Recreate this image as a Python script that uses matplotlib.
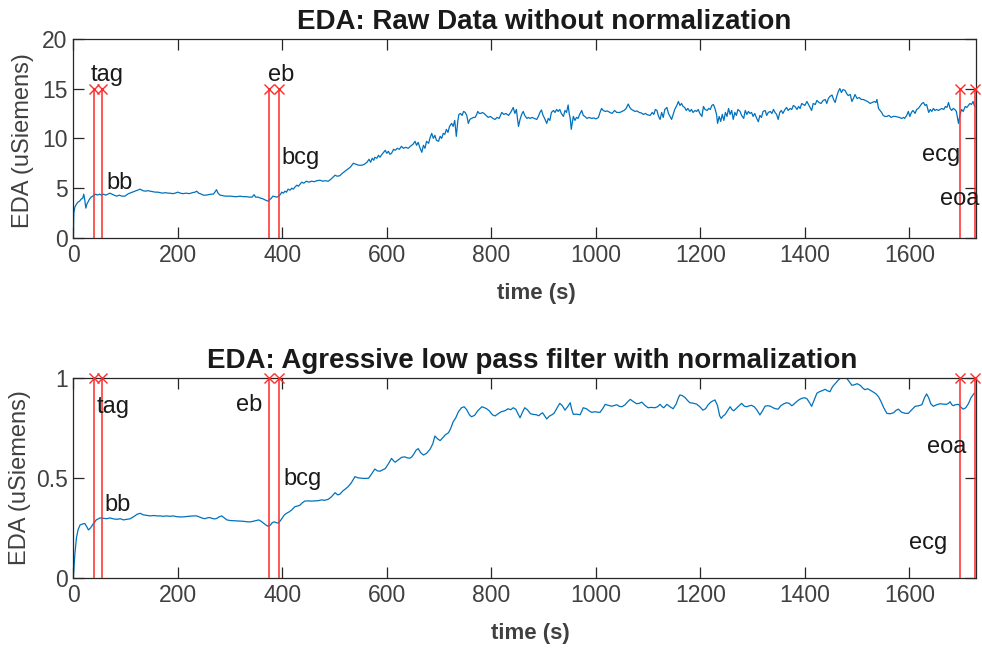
import matplotlib
matplotlib.use("Agg")
import matplotlib.pyplot as plt

plt.rcParams['font.family'] = ['Liberation Sans', 'DejaVu Sans']

# ---------------- data ----------------
raw_t = [0, 1, 3, 6, 9, 12, 15, 18, 20, 22, 24, 26, 28, 31, 34, 37, 40, 43, 46, 50, 54, 58, 62, 66, 70, 74, 78, 83, 88, 93, 99,
         104, 108, 113, 118, 123, 128, 133, 138, 143, 147, 152, 157, 162, 166, 171, 176, 181, 185, 190, 195, 200, 205, 210, 216,
         222, 228, 233, 236, 240, 245, 249, 254, 259, 264, 268, 271, 274, 277, 281, 286, 291, 296, 302, 308, 313, 319, 325, 331,
         337, 342, 346, 349, 354, 358, 362, 366, 370, 373, 376, 379, 382, 386, 389, 392, 396, 399, 402, 405, 408, 411, 415, 418,
         421, 424, 428, 431, 434, 437, 441, 446, 451, 456, 461, 466, 472, 477, 482, 488, 493, 497, 501, 505, 510, 515, 520, 525,
         530, 536, 541, 546, 552, 557, 562, 566, 569, 572, 575, 577, 581, 584, 587, 590, 594, 597, 600, 603, 606, 609, 613, 616,
         620, 624, 628, 632, 636, 641, 645, 650, 654, 657, 660, 663, 667, 670, 673, 676, 680, 683, 686, 689, 692, 695, 699, 702,
         705, 708, 711, 714, 717, 720, 724, 727, 730, 733, 736, 738, 741, 744, 747, 750, 753, 756, 759, 762, 766, 769, 772, 774,
         777, 780, 783, 786, 790, 794, 798, 803, 807, 811, 815, 820, 824, 828, 833, 837, 840, 842, 845, 848, 850, 852, 855, 858,
         861, 864, 868, 871, 874, 878, 882, 887, 890, 893, 896, 899, 902, 906, 909, 912, 915, 919, 922, 925, 928, 931, 934, 938,
         941, 944, 947, 949, 951, 953, 955, 957, 960, 963, 966, 969, 973, 976, 979, 983, 987, 992, 996, 1000, 1005, 1008, 1011,
         1014, 1018, 1022, 1027, 1031, 1036, 1040, 1046, 1050, 1054, 1058, 1062, 1065, 1068, 1072, 1075, 1079, 1083, 1087, 1091,
         1095, 1099, 1104, 1108, 1111, 1114, 1117, 1120, 1123, 1126, 1129, 1132, 1136, 1139, 1142, 1145, 1148, 1151, 1155, 1158,
         1161, 1164, 1167, 1170, 1173, 1176, 1180, 1183, 1186, 1190, 1193, 1196, 1199, 1203, 1206, 1209, 1213, 1216, 1219, 1222,
         1225, 1228, 1231, 1233, 1236, 1239, 1242, 1245, 1248, 1251, 1254, 1257, 1260, 1263, 1266, 1269, 1272, 1276, 1279, 1283,
         1286, 1289, 1292, 1295, 1298, 1301, 1304, 1308, 1311, 1314, 1317, 1320, 1324, 1327, 1330, 1334, 1337, 1340, 1343, 1346,
         1349, 1352, 1355, 1358, 1362, 1365, 1368, 1372, 1375, 1378, 1381, 1385, 1388, 1391, 1394, 1397, 1400, 1404, 1407, 1410,
         1413, 1416, 1420, 1423, 1427, 1431, 1435, 1439, 1442, 1445, 1448, 1452, 1455, 1458, 1461, 1464, 1467, 1470, 1473, 1477,
         1480, 1483, 1487, 1490, 1493, 1496, 1500, 1504, 1508, 1512, 1516, 1520, 1525, 1529, 1533, 1536, 1538, 1541, 1544, 1547,
         1550, 1553, 1557, 1561, 1565, 1569, 1573, 1577, 1581, 1585, 1589, 1591, 1595, 1598, 1601, 1604, 1607, 1611, 1614, 1617,
         1620, 1624, 1627, 1630, 1633, 1637, 1640, 1643, 1646, 1649, 1652, 1656, 1659, 1662, 1666, 1669, 1672, 1675, 1678, 1681,
         1684, 1687, 1690, 1694, 1697, 1700, 1703, 1707, 1710, 1713, 1716, 1719, 1722, 1725]
raw_eda = [0.0, 2.5, 3.1, 3.4, 3.6, 3.7, 3.9, 4.0, 4.4, 3.8, 3.0, 3.4, 3.6, 3.9, 4.1, 4.2, 4.3, 4.4, 4.3, 4.4, 4.3, 4.4, 4.3, 4.4,
           4.5, 4.4, 4.3, 4.2, 4.3, 4.2, 4.2, 4.4, 4.5, 4.6, 4.7, 4.8, 4.9, 4.75, 4.7, 4.75, 4.7, 4.65, 4.6, 4.6, 4.55, 4.5,
           4.55, 4.5, 4.5, 4.45, 4.5, 4.6, 4.5, 4.45, 4.5, 4.45, 4.55, 4.6, 4.7, 4.5, 4.4, 4.3, 4.3, 4.35, 4.4, 4.4, 4.6, 4.85,
           4.5, 4.3, 4.25, 4.2, 4.2, 4.2, 4.15, 4.15, 4.2, 4.15, 4.15, 4.1, 4.1, 4.35, 4.1, 4.1, 4.0, 3.95, 3.85, 3.75, 3.7, 3.85,
           4.0, 4.2, 4.15, 4.1, 4.15, 4.35, 4.6, 4.5, 4.7, 4.6, 4.9, 4.8, 5.0, 4.9, 5.1, 5.3, 5.2, 5.4, 5.6, 5.5, 5.7, 5.6, 5.7,
           5.65, 5.75, 5.8, 5.7, 5.75, 5.7, 5.9, 6.1, 6.3, 6.2, 6.25, 6.5, 6.7, 6.9, 7.1, 7.5, 7.4, 7.3, 7.3, 7.4, 7.6, 7.9, 7.6,
           8.0, 7.8, 8.1, 8.0, 8.3, 8.1, 8.35, 8.6, 8.8, 8.5, 8.7, 8.4, 8.5, 8.9, 8.8, 9.0, 8.9, 9.2, 9.0, 9.1, 9.0, 9.2, 9.4,
           9.7, 9.3, 9.6, 9.1, 8.6, 9.3, 9.0, 9.7, 9.5, 10.1, 10.5, 10.0, 10.3, 9.8, 9.7, 10.2, 10.0, 10.5, 10.4, 10.9, 10.6,
           11.2, 11.5, 11.2, 11.8, 10.2, 11.8, 12.4, 12.5, 12.3, 12.7, 12.6, 12.3, 11.5, 11.9, 12.0, 12.1, 12.1, 12.4, 12.7, 12.5,
           12.5, 12.6, 12.5, 12.3, 12.1, 12.2, 12.0, 11.9, 12.1, 12.0, 12.6, 12.4, 12.5, 12.3, 12.6, 12.9, 13.1, 12.5, 12.9, 12.0,
           11.2, 11.9, 12.4, 12.7, 12.3, 12.0, 12.1, 12.0, 12.1, 12.0, 11.9, 12.2, 12.6, 12.85, 12.3, 12.0, 11.5, 12.0, 11.8,
           12.6, 12.8, 12.6, 12.9, 12.7, 12.9, 12.5, 12.2, 12.8, 12.6, 13.35, 12.5, 12.0, 10.9, 11.6, 12.2, 11.8, 12.1, 12.0,
           12.4, 12.8, 12.3, 12.2, 12.0, 12.1, 12.0, 12.05, 11.95, 12.1, 12.6, 13.0, 12.8, 12.7, 12.75, 12.6, 12.5, 12.8, 12.6,
           12.6, 12.7, 12.8, 13.0, 13.45, 13.1, 12.9, 12.8, 12.7, 12.75, 12.6, 12.55, 12.4, 12.5, 12.35, 12.3, 12.6, 12.4, 12.9,
           12.8, 12.2, 11.9, 12.6, 12.1, 12.9, 13.1, 12.5, 12.2, 11.9, 12.4, 12.9, 13.3, 13.7, 13.3, 13.5, 13.2, 13.1, 12.8,
           13.0, 12.7, 12.9, 12.6, 12.8, 12.7, 12.9, 12.5, 12.2, 13.2, 12.9, 12.8, 13.0, 12.9, 13.3, 13.4, 13.0, 12.4, 11.5,
           12.2, 11.7, 12.4, 11.8, 12.6, 12.2, 13.0, 12.4, 12.8, 11.9, 12.6, 12.3, 12.9, 12.7, 12.3, 12.0, 12.8, 12.4, 12.7,
           12.5, 12.6, 12.2, 12.5, 12.0, 11.67, 12.3, 12.1, 12.7, 12.8, 12.3, 12.6, 12.7, 12.5, 12.9, 12.6, 12.4, 11.9, 12.6,
           12.8, 12.5, 12.9, 13.1, 12.8, 13.0, 12.9, 13.3, 13.2, 12.9, 13.2, 13.0, 13.5, 13.4, 13.3, 13.7, 13.4, 13.1, 12.8,
           13.5, 13.4, 13.8, 13.6, 13.5, 13.8, 13.9, 13.5, 14.0, 14.2, 14.35, 13.9, 13.6, 14.2, 14.7, 15.0, 14.6, 14.9, 14.8,
           14.5, 14.3, 14.4, 13.7, 14.0, 14.4, 14.0, 14.1, 13.9, 13.9, 13.8, 13.7, 13.5, 13.6, 13.7, 13.6, 13.9, 13.0, 12.8,
           12.6, 12.3, 12.2, 12.2, 12.3, 12.1, 12.2, 12.2, 12.15, 12.1, 12.0, 12.1, 12.0, 12.3, 12.7, 12.2, 12.6, 12.8, 12.5,
           12.9, 13.0, 13.2, 13.5, 13.6, 13.3, 13.4, 12.6, 12.9, 12.7, 13.0, 12.8, 12.9, 12.8, 12.9, 13.0, 12.9, 13.2, 13.1,
           13.6, 13.0, 12.8, 13.0, 12.9, 12.7, 11.5, 12.4, 12.9, 12.7, 13.2, 13.1, 13.3, 13.5, 13.4, 13.7, 13.2]

filt_t = [0, 3, 6, 9, 13, 18, 22, 26, 29, 33, 38, 44, 51, 58, 64, 70, 77, 84, 90, 96, 102, 108, 115, 122, 128, 134, 140, 147,
          154, 160, 166, 172, 178, 185, 191, 198, 204, 210, 217, 224, 230, 236, 242, 248, 252, 256, 261, 265, 270, 274, 279,
          284, 289, 294, 300, 307, 313, 320, 326, 332, 338, 344, 350, 355, 360, 365, 370, 373, 377, 381, 385, 389, 392, 396,
          400, 404, 408, 413, 418, 424, 430, 434, 438, 443, 450, 456, 462, 469, 475, 481, 488, 494, 501, 506, 510, 516, 521,
          526, 532, 539, 545, 552, 558, 565, 571, 577, 582, 587, 592, 597, 603, 609, 613, 616, 622, 628, 634, 639, 644, 648,
          652, 656, 660, 665, 670, 676, 683, 688, 692, 697, 702, 707, 712, 718, 722, 727, 732, 737, 743, 748, 753, 758, 762,
          768, 774, 782, 787, 791, 796, 802, 807, 813, 819, 826, 832, 837, 842, 847, 851, 855, 860, 864, 869, 875, 880, 886,
          891, 894, 898, 902, 906, 911, 916, 920, 926, 931, 936, 941, 946, 951, 954, 957, 963, 970, 976, 982, 987, 992, 998,
          1003, 1008, 1013, 1018, 1024, 1030, 1034, 1040, 1045, 1050, 1056, 1061, 1066, 1071, 1078, 1083, 1088, 1094, 1100,
          1106, 1113, 1118, 1123, 1127, 1130, 1136, 1142, 1148, 1154, 1158, 1161, 1166, 1171, 1176, 1180, 1186, 1193, 1199,
          1205, 1210, 1215, 1221, 1228, 1233, 1237, 1240, 1244, 1247, 1252, 1257, 1261, 1264, 1270, 1275, 1279, 1284, 1289,
          1294, 1298, 1303, 1308, 1314, 1319, 1324, 1329, 1334, 1339, 1344, 1349, 1354, 1360, 1365, 1370, 1375, 1378, 1384,
          1389, 1394, 1400, 1404, 1409, 1413, 1418, 1423, 1428, 1433, 1439, 1443, 1448, 1453, 1458, 1463, 1467, 1471, 1476,
          1480, 1485, 1490, 1495, 1500, 1506, 1511, 1515, 1520, 1525, 1530, 1536, 1541, 1546, 1551, 1557, 1563, 1570, 1575,
          1579, 1585, 1592, 1598, 1604, 1611, 1618, 1624, 1629, 1633, 1637, 1641, 1646, 1652, 1659, 1665, 1671, 1675, 1678,
          1681, 1684, 1688, 1694, 1699, 1703, 1708, 1713, 1718, 1724]
filt_eda = [0.0, 0.12, 0.2, 0.24, 0.265, 0.27, 0.272, 0.255, 0.24, 0.25, 0.27, 0.29, 0.30, 0.298, 0.296, 0.30, 0.295, 0.293,
            0.296, 0.29, 0.293, 0.295, 0.305, 0.318, 0.323, 0.315, 0.313, 0.31, 0.312, 0.31, 0.31, 0.308, 0.31, 0.308, 0.31,
            0.306, 0.305, 0.305, 0.307, 0.309, 0.31, 0.31, 0.304, 0.298, 0.296, 0.3, 0.302, 0.298, 0.295, 0.297, 0.305, 0.31,
            0.3, 0.29, 0.287, 0.286, 0.285, 0.284, 0.283, 0.281, 0.28, 0.283, 0.287, 0.29, 0.282, 0.272, 0.262, 0.258, 0.264,
            0.277, 0.28, 0.276, 0.274, 0.285, 0.3, 0.315, 0.323, 0.33, 0.34, 0.356, 0.36, 0.364, 0.375, 0.384, 0.385, 0.384,
            0.385, 0.386, 0.39, 0.388, 0.393, 0.405, 0.426, 0.415, 0.418, 0.435, 0.445, 0.456, 0.475, 0.506, 0.5, 0.498, 0.497,
            0.498, 0.52, 0.544, 0.535, 0.533, 0.54, 0.546, 0.57, 0.597, 0.585, 0.578, 0.59, 0.602, 0.605, 0.6, 0.598, 0.605,
            0.62, 0.638, 0.646, 0.625, 0.614, 0.622, 0.644, 0.67, 0.709, 0.695, 0.686, 0.7, 0.715, 0.725, 0.745, 0.78, 0.8,
            0.83, 0.85, 0.855, 0.84, 0.815, 0.805, 0.812, 0.835, 0.855, 0.85, 0.845, 0.835, 0.815, 0.809, 0.82, 0.83, 0.835,
            0.845, 0.84, 0.85, 0.842, 0.82, 0.80, 0.83, 0.85, 0.84, 0.82, 0.817, 0.815, 0.81, 0.818, 0.825, 0.81, 0.794, 0.808,
            0.815, 0.822, 0.85, 0.872, 0.86, 0.838, 0.855, 0.875, 0.84, 0.817, 0.818, 0.815, 0.85, 0.845, 0.835, 0.827, 0.83,
            0.828, 0.827, 0.845, 0.867, 0.862, 0.858, 0.86, 0.865, 0.857, 0.855, 0.865, 0.88, 0.892, 0.882, 0.87, 0.872, 0.878,
            0.862, 0.85, 0.852, 0.85, 0.855, 0.867, 0.855, 0.85, 0.867, 0.855, 0.845, 0.87, 0.9, 0.914, 0.91, 0.9, 0.885,
            0.875, 0.873, 0.868, 0.855, 0.838, 0.845, 0.865, 0.88, 0.889, 0.86, 0.81, 0.797, 0.81, 0.815, 0.835, 0.855, 0.84,
            0.835, 0.85, 0.862, 0.872, 0.858, 0.855, 0.86, 0.862, 0.855, 0.84, 0.814, 0.835, 0.858, 0.86, 0.858, 0.85, 0.845,
            0.843, 0.86, 0.87, 0.875, 0.872, 0.86, 0.865, 0.88, 0.89, 0.897, 0.9, 0.895, 0.875, 0.857, 0.89, 0.922, 0.93,
            0.935, 0.942, 0.935, 0.93, 0.955, 0.97, 0.985, 0.995, 1.0, 1.0, 0.998, 0.98, 0.962, 0.965, 0.97, 0.962, 0.948,
            0.94, 0.945, 0.938, 0.93, 0.92, 0.905, 0.88, 0.85, 0.822, 0.82, 0.825, 0.838, 0.843, 0.828, 0.822, 0.822, 0.838,
            0.857, 0.86, 0.865, 0.9, 0.919, 0.9, 0.87, 0.857, 0.865, 0.87, 0.868, 0.867, 0.872, 0.88, 0.866, 0.86, 0.865,
            0.867, 0.852, 0.843, 0.85, 0.87, 0.9, 0.922]

event_names = ['tag', 'bb', 'eb', 'bcg', 'ecg', 'eoa']
event_times = [40, 55, 375, 394, 1696, 1726]

# label anchor positions (time, value) for each event label, per panel
raw_label_t = [33, 64, 372, 399, 1624, 1658]
raw_label_y = [16.4, 5.5, 16.4, 8.0, 8.3, 3.9]
filt_label_t = [45, 59, 311, 403, 1600, 1634]
filt_label_y = [0.854, 0.364, 0.864, 0.493, 0.175, 0.654]

raw_marker_level = 15
filt_marker_level = 1

x_ticks = [0, 200, 400, 600, 800, 1000, 1200, 1400, 1600]
raw_yticks = [0, 5, 10, 15, 20]
filt_yticks = [0, 0.5, 1]
filt_yticklabels = ['0', '0.5', '1']

# ---------------- style ----------------
BLUE = (0.0, 0.447, 0.741)
RED = '#ff2a2a'
AX_GRAY = (0.15, 0.15, 0.15)
TICK_GRAY = (0.25, 0.25, 0.25)
W, H = 982, 649

fig = plt.figure(figsize=(W / 100, H / 100), dpi=100)


def px_axes(left, top, right, bottom):
    return fig.add_axes([left / W, 1 - bottom / H, (right - left) / W, (bottom - top) / H])


ax1 = px_axes(73.3, 38.7, 975.7, 238.0)
ax2 = px_axes(73.3, 377.7, 975.7, 578.0)


def style(ax, yticks, ylim):
    ax.set_xlim(0, 1727)
    ax.set_ylim(*ylim)
    ax.set_xticks(x_ticks)
    ax.set_yticks(yticks)
    for s in ax.spines.values():
        s.set_color(AX_GRAY)
        s.set_linewidth(0.9)
    ax.tick_params(direction='in', length=8, width=0.9, colors=AX_GRAY,
                   labelsize=16.5, top=True, right=True, pad=4)
    for lab in ax.get_xticklabels() + ax.get_yticklabels():
        lab.set_color(TICK_GRAY)


def events(ax, level, lab_t, lab_y):
    for t in event_times:
        ax.plot([t, t], [0, level], color=RED, lw=1.1, zorder=3)
        ax.plot([t], [level], marker='x', color=RED, ms=7, mew=1.0, zorder=4, clip_on=False)
    for name, tx, ty in zip(event_names, lab_t, lab_y):
        ax.text(tx, ty, name, fontsize=17, color=(0.1, 0.1, 0.1), ha='left', va='center', zorder=5)


# top panel
ax1.plot(raw_t, raw_eda, color=BLUE, lw=0.9, zorder=2)
style(ax1, raw_yticks, (0, 20))
events(ax1, raw_marker_level, raw_label_t, raw_label_y)
ax1.set_title('EDA: Raw Data without normalization', fontsize=20, fontweight='bold',
              color=(0.1, 0.1, 0.1), pad=7, x=0.522)
ax1.set_xlabel('time (s)', fontsize=16, fontweight='bold', color=TICK_GRAY)
ax1.xaxis.set_label_coords(0.513, -0.226)
ax1.xaxis.label.set_va('top')
ax1.set_ylabel('EDA (uSiemens)', fontsize=17, color=TICK_GRAY)
ax1.yaxis.set_label_coords(-0.043, 0.49)

# bottom panel
ax2.plot(filt_t, filt_eda, color=BLUE, lw=0.9, zorder=2)
style(ax2, filt_yticks, (0, 1))
ax2.set_yticklabels(filt_yticklabels)
for lab in ax2.get_yticklabels():
    lab.set_color(TICK_GRAY)
events(ax2, filt_marker_level, filt_label_t, filt_label_y)
ax2.set_title('EDA: Agressive low pass filter with normalization', fontsize=20, fontweight='bold',
              color=(0.1, 0.1, 0.1), pad=7, x=0.508)
ax2.set_xlabel('time (s)', fontsize=16, fontweight='bold', color=TICK_GRAY)
ax2.xaxis.set_label_coords(0.507, -0.225)
ax2.xaxis.label.set_va('top')
ax2.set_ylabel('EDA (uSiemens)', fontsize=17, color=TICK_GRAY)
ax2.yaxis.set_label_coords(-0.047, 0.5)

fig.savefig('out.png', dpi=100, facecolor='white')
